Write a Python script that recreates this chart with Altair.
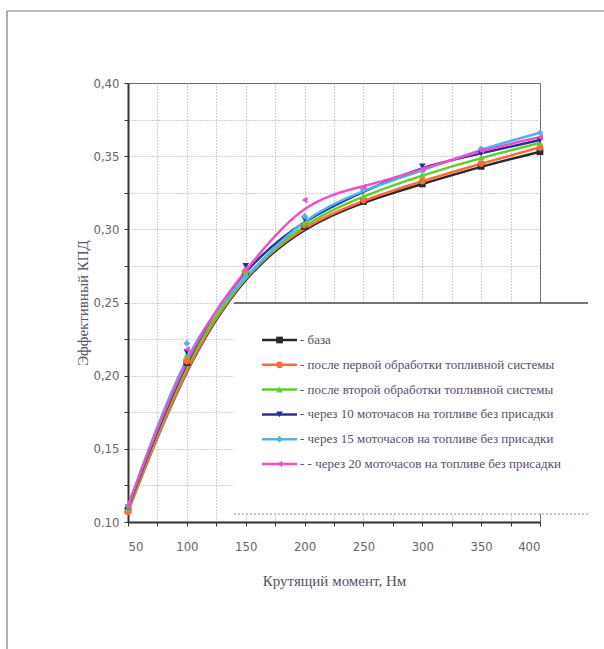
import altair as alt
import pandas as pd

torque = [50, 100, 150, 200, 250, 300, 350, 400]

series_names = [
    "- база",
    "- после первой обработки топливной системы",
    "- после второй обработки топливной системы",
    "- через 10 моточасов на топливе без присадки",
    "- через 15 моточасов на топливе без присадки",
    "- - через 20 моточасов на топливе без присадки",
]

base = [0.108, 0.209, 0.270, 0.302, 0.319, 0.331, 0.343, 0.353]
first_treat = [0.107, 0.210, 0.271, 0.303, 0.320, 0.333, 0.345, 0.356]
second_treat = [0.109, 0.214, 0.270, 0.305, 0.323, 0.337, 0.349, 0.359]
after_10h = [0.110, 0.216, 0.275, 0.307, 0.326, 0.343, 0.352, 0.361]
after_15h = [0.111, 0.222, 0.268, 0.309, 0.327, 0.340, 0.355, 0.366]
after_20h = [0.111, 0.218, 0.273, 0.320, 0.329, 0.341, 0.354, 0.363]

colors = ["#2a2a2a", "#ff6a3a", "#5ccf2a", "#2b2f9a", "#4fb3ee", "#f050c0"]
shapes = ["square", "circle", "triangle-up", "triangle-down", "diamond", "triangle-left"]

all_vals = [base, first_treat, second_treat, after_10h, after_15h, after_20h]
rows = []
for name, vals in zip(series_names, all_vals):
    for t, v in zip(torque, vals):
        rows.append({"x": t, "y": v, "series": name})
df = pd.DataFrame(rows)
legend_df = pd.DataFrame({"series": series_names})

grid_x = list(range(50, 401, 25))
grid_y = [round(0.1 + 0.025 * i, 3) for i in range(13)]

SERIF = "Liberation Serif, Times New Roman, DejaVu Serif, serif"

x_enc = alt.X(
    "x:Q",
    scale=alt.Scale(domain=[50, 400], nice=False, zero=False),
    axis=alt.Axis(
        values=grid_x,
        labelExpr="datum.value % 50 == 0 ? datum.label : ''",
        title="Крутящий момент, Нм",
        titlePadding=20,
        labelPadding=14,
    ),
)
y_enc = alt.Y(
    "y:Q",
    scale=alt.Scale(domain=[0.1, 0.4], nice=False, zero=False),
    axis=alt.Axis(
        values=grid_y,
        labelExpr="abs(datum.value*1000 % 50) < 1 || abs(datum.value*1000 % 50) > 49 ? (abs(datum.value - 0.1) < 0.001 ? '0.10' : replace(format(datum.value, '.2f'), '.', ',')) : ''",
        title="Эффективный КПД",
        titlePadding=2,
        labelPadding=5,
    ),
)

color_enc = alt.Color("series:N", scale=alt.Scale(domain=series_names, range=colors), legend=None)
shape_enc = alt.Shape("series:N", scale=alt.Scale(domain=series_names, range=shapes), legend=None)

lines = alt.Chart(df).mark_line(interpolate="basis", strokeWidth=2.5).encode(
    x=x_enc, y=y_enc, color=color_enc, detail="series:N"
)
points = alt.Chart(df).mark_point(filled=True, size=45, opacity=1).encode(
    x=x_enc, y=y_enc, color=color_enc, shape=shape_enc
)
main = alt.layer(lines, points)

# legend rows placed by a point scale over the series names
leg_y = alt.Y(
    "series:N",
    scale=alt.Scale(type="point", domain=series_names, range=[257, 381], padding=0),
    axis=None,
)
one_row = alt.Data(values=[{"a": 1}])
leg_box = alt.Chart(one_row).mark_rect(fill="white", stroke=None).encode(
    x=alt.value(106), x2=alt.value(460), y=alt.value(220), y2=alt.value(431)
)
leg_top = alt.Chart(one_row).mark_rule(color="#444444", strokeWidth=1.5).encode(
    x=alt.value(106), x2=alt.value(460), y=alt.value(220)
)
leg_bottom = alt.Chart(one_row).mark_rule(color="#7d8fc0", strokeWidth=1, strokeDash=[2, 2]).encode(
    x=alt.value(106), x2=alt.value(460), y=alt.value(431)
)
leg_lines = alt.Chart(legend_df).mark_rule(strokeWidth=2.5).encode(
    x=alt.value(134), x2=alt.value(169), y=leg_y, color=color_enc
)
leg_marks = alt.Chart(legend_df).mark_point(filled=True, size=45, opacity=1).encode(
    x=alt.value(151.5), y=leg_y, color=color_enc, shape=shape_enc
)
leg_text = alt.Chart(legend_df).mark_text(
    align="left", baseline="middle", font=SERIF, fontSize=13, color="#5b4d6b", dx=0
).encode(x=alt.value(172), y=leg_y, text="series:N")
legend = alt.layer(leg_box, leg_top, leg_bottom, leg_lines, leg_marks, leg_text)

top_line = alt.Chart(one_row).mark_rule(color="#777777", strokeWidth=1.2).encode(
    x=alt.value(-121), x2=alt.value(476), y=alt.value(-72)
)
left_line = alt.Chart(one_row).mark_rule(color="#777777", strokeWidth=1.2).encode(
    x=alt.value(-121), y=alt.value(-72), y2=alt.value(566)
)

chart = (
    alt.layer(main, legend, top_line, left_line)
    .resolve_scale(y="independent")
    .properties(
        width=412,
        height=439,
        autosize=alt.AutoSizeParams(type="none"),
        padding={"left": 128, "top": 83, "right": 64, "bottom": 127},
        background="white",
    )
    .configure_view(stroke="#555555", strokeWidth=1)
    .configure_axis(
        domainColor="#333333",
        domainWidth=2,
        tickColor="#333333",
        tickSize=4,
        tickWidth=1,
        gridColor="#8fa0c8",
        gridDash=[1, 2],
        gridWidth=1,
        labelFont="Liberation Sans Narrow, DejaVu Sans Condensed, Roboto, Liberation Sans",
        labelFontSize=13,
        labelColor="#666666",
        titleFont=SERIF,
        titleFontSize=15,
        titleFontWeight="normal",
        titleColor="#555566",
    )
)

chart.save("out.html", embed_options={"renderer": "svg", "actions": False})
